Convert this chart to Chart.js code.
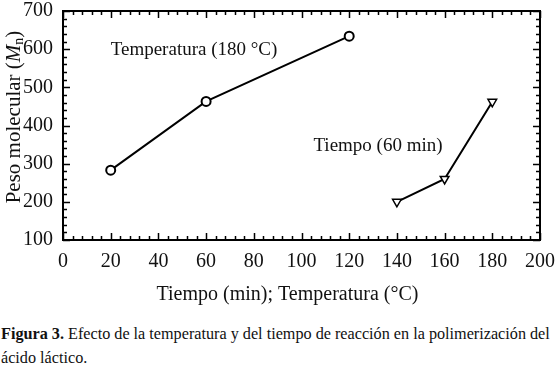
<!DOCTYPE html>
<html>
<head>
<meta charset="utf-8">
<script src="https://cdn.jsdelivr.net/npm/chart.js@4/dist/chart.umd.min.js"></script>
<style>
  body { margin: 0; background: #fff; width: 556px; height: 368px; overflow: hidden; }
  #wrap { position: relative; width: 556px; height: 314px; }
  #cap { font-family: "Liberation Serif", "Tinos", "Times New Roman", "DejaVu Serif", serif; font-size: 16.2px; line-height: 24px; color: #111; margin: 8px 0 0 1px; white-space: nowrap; }
</style>
</head>
<body>
<div id="wrap"><canvas id="mycanvas"></canvas></div>
<div id="cap"><b>Figura 3.</b> Efecto de la temperatura y del tiempo de reacción en la polimerización del<br>ácido láctico.</div>
<script>
// serie temperatura (180 °C)
var tempX = [20, 60, 120];
var tempY = [283, 463, 634];
// serie tiempo (60 min)
var timeX = [140, 160, 180];
var timeY = [200, 260, 462];

var xTicks = [0, 20, 40, 60, 80, 100, 120, 140, 160, 180, 200];
var yTicks = [100, 200, 300, 400, 500, 600, 700];

var serif = "'Liberation Serif', Tinos, 'Times New Roman', 'DejaVu Serif', serif";

function pts(xs, ys) {
	var out = [];
	for (var i in xs) out.push({x: xs[i], y: ys[i]});
	return out;
}

// marco, marcas interiores, titulos y etiquetas
var framePlugin = {
	id: 'frame',
	afterDraw: function(chart) {
		var c = chart.ctx, a = chart.chartArea;
		var sx = chart.scales.x, sy = chart.scales.y;
		c.save();
		c.strokeStyle = '#000';
		c.lineWidth = 2;
		c.strokeRect(a.left, a.top, a.right - a.left, a.bottom - a.top);
		c.lineWidth = 1.5;
		c.beginPath();
		for (var v = 0; v <= 200; v += 4) {
			var px = Math.round(sx.getPixelForValue(v)) + 0.5;
			var len = (v % 20 === 0) ? 7 : 4;
			c.moveTo(px, a.bottom); c.lineTo(px, a.bottom - len);
			c.moveTo(px, a.top); c.lineTo(px, a.top + len);
		}
		for (var w = 100; w <= 700; w += 20) {
			var py = Math.round(sy.getPixelForValue(w)) + 0.5;
			var l2 = (w % 100 === 0) ? 7 : 4;
			c.moveTo(a.left, py); c.lineTo(a.left + l2, py);
			c.moveTo(a.right, py); c.lineTo(a.right - l2, py);
		}
		c.stroke();

		// anotaciones
		c.fillStyle = '#111';
		c.font = '19px ' + serif;
		c.textBaseline = 'middle';
		c.textAlign = 'left';
		c.fillText('Temperatura (180 °C)', sx.getPixelForValue(20), sy.getPixelForValue(598));
		c.fillText('Tiempo (60 min)', sx.getPixelForValue(105), sy.getPixelForValue(345));

		// titulo eje x
		c.font = '20px ' + serif;
		c.textAlign = 'center';
		c.fillText('Tiempo (min); Temperatura (°C)', (a.left + a.right) / 2 - 14, 295);

		// titulo eje y con M cursiva y subindice n
		c.translate(14, 117);
		c.rotate(-Math.PI / 2);
		var f1 = '21px ' + serif, f2 = 'italic 21px ' + serif, f3 = '14px ' + serif;
		c.font = f1; var w1 = c.measureText('Peso molecular (').width;
		c.font = f2; var w2 = c.measureText('M').width;
		c.font = f3; var w3 = c.measureText('n').width;
		c.font = f1; var w4 = c.measureText(')').width;
		var x0 = -(w1 + w2 + w3 + w4) / 2;
		c.textAlign = 'left';
		c.font = f1; c.fillText('Peso molecular (', x0, 0);
		c.font = f2; c.fillText('M', x0 + w1, 0);
		c.font = f3; c.fillText('n', x0 + w1 + w2, 5);
		c.font = f1; c.fillText(')', x0 + w1 + w2 + w3, 0);
		c.restore();
	}
};

var chartdata = {
	datasets: [
		{
			label: 'Temperatura (180 °C)',
			data: pts(tempX, tempY),
			borderColor: '#000',
			borderWidth: 2,
			backgroundColor: '#fff',
			pointStyle: 'circle',
			pointRadius: 4.5,
			pointBorderWidth: 2,
			pointBackgroundColor: '#fff',
			pointBorderColor: '#000',
			lineTension: 0
		},
		{
			label: 'Tiempo (60 min)',
			data: pts(timeX, timeY),
			borderColor: '#000',
			borderWidth: 2,
			backgroundColor: '#fff',
			pointStyle: 'triangle',
			rotation: 180,
			pointRadius: 5,
			pointBorderWidth: 1.5,
			pointBackgroundColor: '#fff',
			pointBorderColor: '#000',
			lineTension: 0
		}
	]
};

var ctx = document.getElementById('mycanvas');

var LineGraph = new Chart(ctx, {
	type: 'line',
	data: chartdata,
	plugins: [framePlugin],
	options: {
		responsive: true,
		maintainAspectRatio: false,
		animation: false,
		layout: { padding: { left: 0, right: 16, top: 11, bottom: 0 } },
		plugins: { legend: { display: false }, tooltip: { enabled: false } },
		scales: {
			x: {
				type: 'linear',
				min: 0, max: 200,
				afterBuildTicks: function(s) { s.ticks = xTicks.map(function(v){ return {value: v}; }); },
				afterFit: function(s) { s.height = 74; s.paddingLeft = 0; s.paddingRight = 0; },
				grid: { display: false, drawTicks: false },
				border: { display: false },
				ticks: { color: '#111', font: { family: serif, size: 20 }, padding: 10, maxRotation: 0 }
			},
			y: {
				type: 'linear',
				min: 100, max: 700,
				afterBuildTicks: function(s) { s.ticks = yTicks.map(function(v){ return {value: v}; }); },
				afterFit: function(s) { s.width = 63; s.paddingTop = 0; s.paddingBottom = 0; },
				grid: { display: false, drawTicks: false },
				border: { display: false },
				ticks: { color: '#111', font: { family: serif, size: 20 }, padding: 10 }
			}
		}
	}
});
</script>
</body>
</html>
